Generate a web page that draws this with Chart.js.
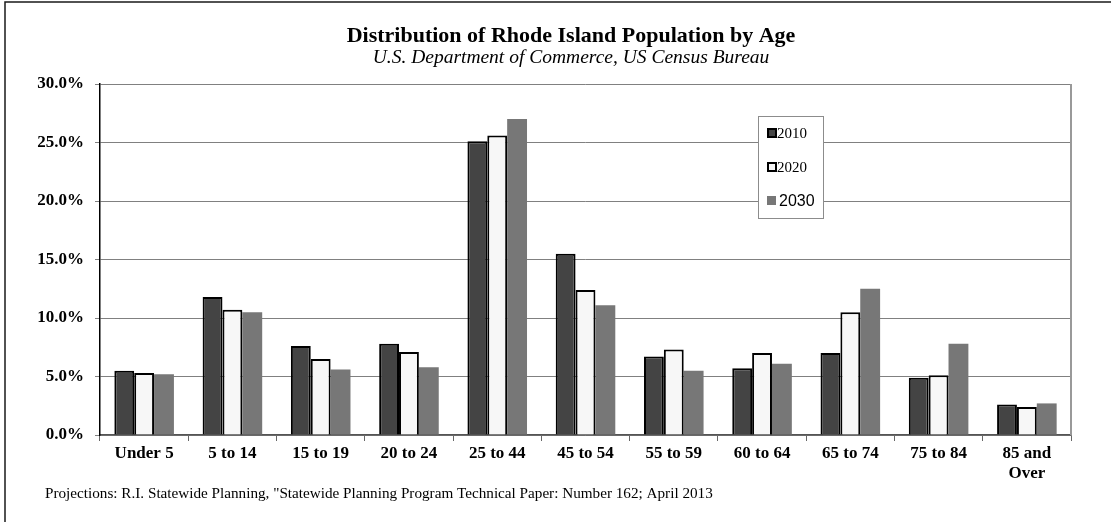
<!DOCTYPE html>
<html>
<head>
<meta charset="utf-8">
<title>Distribution of Rhode Island Population by Age</title>
<script src="https://cdn.jsdelivr.net/npm/chart.js@4/dist/chart.umd.min.js"></script>
<style>
  html, body { margin: 0; padding: 0; background: #fff; }
  #wrap { position: relative; width: 1111px; height: 522px; }
  canvas { display: block; }
</style>
</head>
<body>
<div id="wrap"><canvas id="chart" width="1111" height="522"></canvas></div>
<script>
// Age groups (x categories)
const ageGroups = ['Under 5', '5 to 14', '15 to 19', '20 to 24', '25 to 44', '45 to 54',
                   '55 to 59', '60 to 64', '65 to 74', '75 to 84', ['85 and', 'Over']];

// Share of population in each age group, percent
const pop2010 = [5.5, 11.8, 7.6, 7.8, 25.1, 15.5, 6.7, 5.7, 7.0, 4.9, 2.6];
const pop2020 = [5.3, 10.7, 6.5, 7.1, 25.6, 12.4, 7.3, 7.0, 10.5, 5.1, 2.4];
const pop2030 = [5.2, 10.5, 5.6, 5.8, 27.0, 11.1, 5.5, 6.1, 12.5, 7.8, 2.7];

// Y axis ticks
const yTicks = [0, 5, 10, 15, 20, 25, 30];

const titleText = 'Distribution of Rhode Island Population by Age';
const subtitleText = 'U.S. Department of Commerce, US Census Bureau';
const sourceText = 'Projections: R.I. Statewide Planning, "Statewide Planning Program Technical Paper: Number 162; April 2013';

const SERIF = '"Liberation Serif", "Times New Roman", Times, serif';
const SANS = '"Liberation Sans", Arial, sans-serif';

// Frame, titles, source note, right plot border and the boxed legend
const decorations = {
  id: 'decorations',
  beforeDraw(chart) {
    const ctx = chart.ctx;
    ctx.save();
    ctx.fillStyle = '#fff';
    ctx.fillRect(0, 0, chart.width, chart.height);
    ctx.restore();
  },
  afterDraw(chart) {
    const ctx = chart.ctx;
    const a = chart.chartArea;
    ctx.save();

    // outer frame (top and left edges)
    ctx.strokeStyle = '#1a1a1a';
    ctx.lineWidth = 1.5;
    ctx.beginPath();
    ctx.moveTo(5, chart.height);
    ctx.lineTo(5, 2);
    ctx.lineTo(chart.width, 2);
    ctx.stroke();

    // right border of plot area
    ctx.strokeStyle = '#999';
    ctx.lineWidth = 2;
    ctx.beginPath();
    ctx.moveTo(a.right, a.top);
    ctx.lineTo(a.right, a.bottom);
    ctx.stroke();

    // titles
    ctx.fillStyle = '#000';
    ctx.textAlign = 'center';
    ctx.textBaseline = 'middle';
    ctx.font = 'bold 22px ' + SERIF;
    ctx.fillText(titleText, 571, 36);
    ctx.font = 'italic 19.5px ' + SERIF;
    ctx.fillText(subtitleText, 571, 58);

    // source note
    ctx.textAlign = 'left';
    ctx.font = '15.2px ' + SERIF;
    ctx.fillText(sourceText, 45, 494);

    // legend box
    const lx = 758, ly = 116, lw = 65, lh = 102;
    ctx.fillStyle = '#fff';
    ctx.fillRect(lx, ly, lw, lh);
    ctx.strokeStyle = '#8c8c8c';
    ctx.lineWidth = 1;
    ctx.strokeRect(lx + 0.5, ly + 0.5, lw, lh);

    const rows = [133, 167, 201];
    chart.data.datasets.forEach((ds, i) => {
      const y = rows[i];
      const mx = 768, ms = 8;
      if (ds.borderWidth > 0) {
        ctx.fillStyle = ds.backgroundColor;
        ctx.fillRect(mx, y - ms / 2, ms, ms);
        ctx.strokeStyle = '#000';
        ctx.lineWidth = 2;
        ctx.strokeRect(mx, y - ms / 2, ms, ms);
      } else {
        ctx.fillStyle = ds.backgroundColor;
        ctx.fillRect(mx - 1, y - 5, 9, 9);
      }
      ctx.fillStyle = '#000';
      ctx.textAlign = 'left';
      ctx.textBaseline = 'middle';
      ctx.font = i === 2 ? '16px ' + SANS : '15px ' + SERIF;
      ctx.fillText(ds.label, i === 2 ? 779 : 777, y + 1);
    });

    ctx.restore();
  }
};

new Chart(document.getElementById('chart'), {
  type: 'bar',
  data: {
    labels: ageGroups,
    datasets: [
      { label: '2010', data: pop2010, backgroundColor: '#444444', borderColor: '#000', borderWidth: 2 },
      { label: '2020', data: pop2020, backgroundColor: '#f7f7f7', borderColor: '#000', borderWidth: 2 },
      { label: '2030', data: pop2030, backgroundColor: '#777777', borderColor: '#777777', borderWidth: 0 }
    ]
  },
  options: {
    responsive: false,
    animation: false,
    layout: { padding: { left: 5, right: 40, top: 84, bottom: 0 } },
    datasets: {
      bar: { categoryPercentage: 0.675, barPercentage: 1.0, borderSkipped: 'start' }
    },
    plugins: {
      legend: { display: false },
      title: { display: false },
      tooltip: { enabled: false }
    },
    scales: {
      x: {
        afterFit(scale) { scale.height = 87; },
        grid: {
          offset: true,
          drawOnChartArea: false,
          drawTicks: true,
          tickLength: 6,
          color: '#666'
        },
        border: { color: '#555', width: 1.5 },
        ticks: {
          color: '#000',
          padding: 2,
          maxRotation: 0,
          autoSkip: false,
          font: { family: SERIF, size: 17, weight: 'bold', lineHeight: 1.2 }
        }
      },
      y: {
        min: 0,
        max: 30,
        afterFit(scale) { scale.width = 95; },
        afterBuildTicks(scale) { scale.ticks = yTicks.map(v => ({ value: v })); },
        grid: {
          color: '#808080',
          lineWidth: 1,
          tickLength: 5,
          drawTicks: true
        },
        border: { color: '#000', width: 1.5 },
        ticks: {
          color: '#000',
          padding: 11,
          font: { family: SERIF, size: 17, weight: 'bold' },
          callback: v => Number(v).toFixed(1) + '%'
        }
      }
    }
  },
  plugins: [decorations]
});
</script>
</body>
</html>
